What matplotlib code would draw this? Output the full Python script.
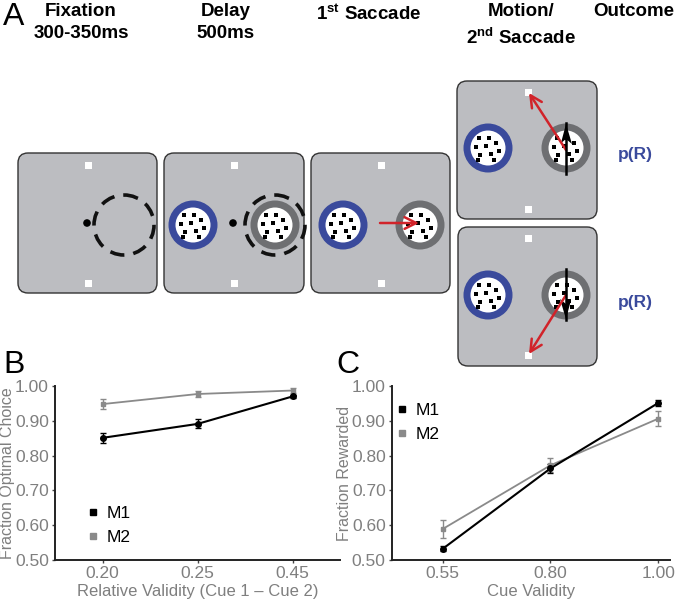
import matplotlib
matplotlib.use("Agg")
import matplotlib.pyplot as plt
from matplotlib.patches import FancyBboxPatch, Circle, Rectangle, Polygon, FancyArrowPatch
import numpy as np

plt.rcParams['font.family'] = ['Liberation Sans', 'DejaVu Sans']
plt.rcParams['mathtext.fontset'] = 'custom'
plt.rcParams['mathtext.rm'] = 'Liberation Sans'
plt.rcParams['mathtext.bf'] = 'Liberation Sans:bold'

# ---- data for panels B and C ----
b_labels = ['0.20', '0.25', '0.45']
b_m1 = [0.851, 0.891, 0.970]
b_m1_err = [0.014, 0.013, 0.004]
b_m2 = [0.948, 0.977, 0.987]
b_m2_err = [0.014, 0.010, 0.008]

c_labels = ['0.55', '0.80', '1.00']
c_m1 = [0.532, 0.763, 0.951]
c_m1_err = [0.007, 0.012, 0.009]
c_m2 = [0.589, 0.772, 0.906]
c_m2_err = [0.025, 0.020, 0.022]

# ---- schematic layout (pixels) ----
stage_titles = [("Fixation\n300-350ms", 81), ("Delay\n500ms", 226),
                ("1$^{\\mathbf{st}}$ Saccade", 369),
                ("Motion/\n2$^{\\mathbf{nd}}$ Saccade", 521), ("Outcome", 634)]

BLUE = '#3a4a9c'
RINGGRAY = '#6e6f72'
PANEL = '#bcbdc1'
RED = '#d1232a'
DOTS = [(-9, -10), (1, -10), (-12, -1), (-2, -2), (8, -5), (11, 3),
        (-8, 7), (3, 6), (6, 12), (-10, 12)]

fig = plt.figure(figsize=(6.77, 6.05), dpi=100)
ov = fig.add_axes([0, 0, 1, 1])
ov.set_xlim(0, 677)
ov.set_ylim(605, 0)
ov.set_aspect('equal')
ov.axis('off')


def panel(x0, y0, x1, y1):
    ov.add_patch(FancyBboxPatch((x0 + 10, y0 + 10), x1 - x0 - 20, y1 - y0 - 20,
                                boxstyle="round,pad=10", fc=PANEL, ec='#333333', lw=1.0))


def square(x, y, s=7, c='white'):
    ov.add_patch(Rectangle((x - s / 2, y - s / 2), s, s, fc=c, ec='none'))


def ring(x, y, color):
    ov.add_patch(Circle((x, y), 24.5, fc=color, ec='none'))
    ov.add_patch(Circle((x, y), 17.5, fc='white', ec='none'))
    for dx, dy in DOTS:
        square(x + dx, y + dy, s=4, c='black')


def dashed(x, y):
    ov.add_patch(Circle((x, y), 30, fill=False, ec='#111111', lw=2.6,
                        linestyle=(0, (4, 2.5))))


def red_arrow(p0, p1):
    ov.add_patch(FancyArrowPatch(p0, p1, arrowstyle='->,head_length=0.7,head_width=0.35',
                                 color=RED, lw=1.8, mutation_scale=12, shrinkA=0, shrinkB=0))


def motion(x, ytop, ybot, up=True):
    ov.plot([x, x], [ytop, ybot], color='black', lw=1.8)
    if up:
        ov.add_patch(Polygon([(x, ytop + 1), (x - 5, ytop + 20), (x, ytop + 16),
                              (x + 6, ytop + 21)], fc='black'))
    else:
        ov.add_patch(Polygon([(x, ybot - 1), (x - 6, ybot - 21), (x, ybot - 16),
                              (x + 5, ybot - 20)], fc='black'))


# titles
ov.text(3, 2, 'A', fontsize=23, va='top', ha='left')
for txt, cx in stage_titles:
    ov.text(cx, 3, txt, fontsize=13.5, fontweight='bold', ha='center', va='top',
            linespacing=1.4)

# panel 1
panel(18, 153, 157, 293)
square(88, 165); square(88, 283)
dashed(124, 225)
ov.add_patch(Circle((87, 223), 3.8, fc='black'))
# panel 2
panel(164, 153, 304, 293)
square(234, 165); square(234, 283)
ring(193, 225, BLUE)
ring(275, 225, RINGGRAY)
dashed(275, 225)
ov.add_patch(Circle((233, 223), 3.8, fc='black'))
# panel 3
panel(311, 153, 450, 293)
square(381, 165); square(381, 283)
ring(343, 225, BLUE)
ring(420, 225, RINGGRAY)
red_arrow((380, 223), (419, 223))
# panel 4
panel(457, 81, 597, 219)
square(528, 92); square(528, 209)
ring(488, 148, BLUE)
ring(566, 148, RINGGRAY)
motion(566, 123, 174, up=True)
red_arrow((566, 150), (529, 93))
ov.text(635, 155, 'p(R)', color=BLUE, fontsize=12.5, fontweight='bold', ha='center', va='center')
# panel 5
panel(458, 227, 597, 366)
square(528, 238); square(528, 355)
ring(488, 295, BLUE)
ring(566, 295, RINGGRAY)
motion(566, 269, 320, up=False)
red_arrow((566, 295), (529, 354))
ov.text(635, 303, 'p(R)', color=BLUE, fontsize=12.5, fontweight='bold', ha='center', va='center')

# ---- line charts ----
TXT = '#7f7f7f'
M2C = '#8a8a8a'


def chart(rect, labels, m1, m1e, m2, m2e, xlim, xlabel, ylabel, leg_xy):
    ax = fig.add_axes(rect)
    ax.patch.set_alpha(0)
    x = np.arange(len(labels))
    ax.errorbar(x, m2, yerr=m2e, color=M2C, lw=1.3, capsize=2, elinewidth=1,
                marker='s', ms=2.5)
    ax.errorbar(x, m1, yerr=m1e, color='black', lw=1.5, capsize=2, elinewidth=1,
                marker='o', ms=4)
    ax.set_xlim(*xlim)
    ax.set_ylim(0.5, 1.0)
    ax.set_yticks(np.arange(0.5, 1.01, 0.1))
    ax.set_yticklabels(['%.2f' % v for v in np.arange(0.5, 1.01, 0.1)])
    ax.set_xticks(x)
    ax.set_xticklabels(labels)
    for s in ['top', 'right']:
        ax.spines[s].set_visible(False)
    for s in ['left', 'bottom']:
        ax.spines[s].set_linewidth(1.4)
        ax.spines[s].set_color('#222222')
        ax.spines[s].set_clip_on(False)
    ax.tick_params(axis='both', labelsize=12.5, labelcolor=TXT, length=2.5, width=1,
                   color='#444444', pad=2)
    ax.set_xlabel(xlabel, fontsize=12, color=TXT, labelpad=2)
    ax.set_ylabel(ylabel, fontsize=11.5, color=TXT, labelpad=0)
    h1 = ax.plot([], [], 's', color='black', ms=4.5)[0]
    h2 = ax.plot([], [], 's', color=M2C, ms=4.5)[0]
    ax.legend([h1, h2], ['M1', 'M2'], loc='upper left', bbox_to_anchor=leg_xy,
              bbox_transform=fig.transFigure, frameon=False, fontsize=12.5,
              handlelength=0.6, handletextpad=0.5, borderpad=0, borderaxespad=0,
              labelspacing=0.5)
    return ax


chart([55 / 677, 45 / 605, 285 / 677, 174 / 605], b_labels, b_m1, b_m1_err, b_m2, b_m2_err,
      (-0.5, 2.5), 'Relative Validity (Cue 1 \u2013 Cue 2)', 'Fraction Optimal Choice',
      (88 / 677, 1 - 506 / 605))
chart([392 / 677, 45 / 605, 278 / 677, 174 / 605], c_labels, c_m1, c_m1_err, c_m2, c_m2_err,
      (-0.47, 2.11), 'Cue Validity', 'Fraction Rewarded',
      (397 / 677, 1 - 403 / 605))

fig.text(3 / 677, 1 - 350 / 605, 'B', fontsize=23, va='top', ha='left')
fig.text(336 / 677, 1 - 350 / 605, 'C', fontsize=23, va='top', ha='left')

fig.savefig('out.png', dpi=100)
